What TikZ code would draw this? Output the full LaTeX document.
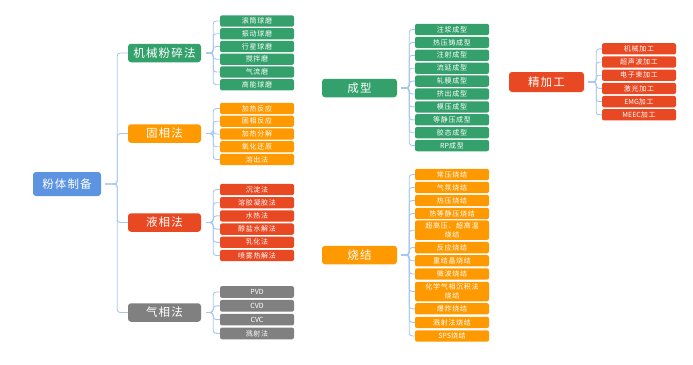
\documentclass[tikz,border=0pt]{standalone}
\usepackage{fontspec}
\setmainfont{Noto Sans CJK SC}
\usetikzlibrary{positioning}
\definecolor{cgreen}{RGB}{52,160,108}
\definecolor{corange}{RGB}{255,153,0}
\definecolor{cred}{RGB}{232,72,34}
\definecolor{cgray}{RGB}{128,128,128}
\definecolor{cblue}{RGB}{92,148,226}
\definecolor{cline}{RGB}{165,198,240}
\newfontfamily\leaffont[LetterSpace=10]{Noto Sans CJK SC}
\newfontfamily\latinleaf{Noto Sans CJK SC}
\newfontfamily\bigfont[LetterSpace=10]{Noto Sans CJK SC}
\tikzset{
  leafbox/.style={rounded corners=2pt, minimum width=74pt, minimum height=11.3pt, inner sep=0pt, text=white, font=\leaffont\fontsize{7}{9}\selectfont, align=center},
  leafG/.style={leafbox, fill=cgreen},
  leafO/.style={leafbox, fill=corange},
  leafR/.style={leafbox, fill=cred},
  leafY/.style={leafbox, fill=cgray},
  topbox/.style={rounded corners=3pt, minimum width=73pt, minimum height=18.5pt, inner sep=0pt, text=white, font=\bigfont\fontsize{11.5}{12}\selectfont},
  conn/.style={draw=cline, line width=0.9pt, rounded corners=3pt},
}
\newcommand{\lat}[1]{{\latinleaf #1}}
\begin{document}
\begin{tikzpicture}[x=1pt,y=-1pt]
\useasboundingbox (0,0) rectangle (693,364);
% root
\node[topbox, fill=cblue, minimum width=68pt, minimum height=24pt] (root) at (67,184) {粉体制备};
% level 1
\node[topbox, fill=cgreen] (mech) at (164.5,53) {机械粉碎法};
\node[topbox, fill=corange] (solid) at (164.5,133.5) {固相法};
\node[topbox, fill=cred] (liq) at (164.5,222.5) {液相法};
\node[topbox, fill=cgray] (gas) at (164.5,312.5) {气相法};
\foreach \p in {mech,solid,liq,gas}
  \draw[conn] ([xshift=4pt]root.east) -- ++(12,0) |- (\p.west);
% mech leaves
\foreach \t [count=\i] in {滚筒球磨,振动球磨,行星球磨,搅拌磨,气流磨,高能球磨}
  \node[leafG] (m\i) at (257,{21+(\i-1)*12.75}) {\t};
\foreach \i in {1,...,6}
  \draw[conn] ([xshift=5pt]mech.east) -- ++(7,0) |- (m\i.west);
% solid leaves
\foreach \t [count=\i] in {加热反应,固相反应,加热分解,氧化还原,溶出法}
  \node[leafO] (s\i) at (257,{108.5+(\i-1)*12.75}) {\t};
\foreach \i in {1,...,5}
  \draw[conn] ([xshift=5pt]solid.east) -- ++(7,0) |- (s\i.west);
% liquid leaves
\foreach \t [count=\i] in {沉淀法,溶胶凝胶法,水热法,醇盐水解法,乳化法,喷雾热解法}
  \node[leafR] (l\i) at (257,{189.5+(\i-1)*13.2}) {\t};
\foreach \i in {1,...,6}
  \draw[conn] ([xshift=5pt]liq.east) -- ++(7,0) |- (l\i.west);
% gas leaves
\node[leafY, minimum height=11.7pt] (g1) at (257,292) {\lat{PVD}};
\node[leafY, minimum height=11.7pt] (g2) at (257,305.8) {\lat{CVD}};
\node[leafY, minimum height=11.7pt] (g3) at (257,319.6) {\lat{CVC}};
\node[leafY, minimum height=11.7pt] (g4) at (257,333.4) {溅射法};
\foreach \i in {1,...,4}
  \draw[conn] ([xshift=5pt]gas.east) -- ++(7,0) |- (g\i.west);
% forming
\node[topbox, fill=cgreen, minimum width=75pt] (form) at (359.5,88) {成型};
\foreach \t [count=\i] in {注浆成型,热压铸成型,注射成型,流延成型,轧膜成型,挤出成型,模压成型,等静压成型,胶态成型,\lat{RP}成型}
  \node[leafG] (f\i) at (452,{29.5+(\i-1)*12.9}) {\t};
\foreach \i in {1,...,10}
  \draw[conn] ([xshift=4pt]form.east) -- ++(8,0) |- (f\i.west);
% sintering
\node[topbox, fill=corange, minimum width=75pt] (sint) at (359.5,255) {烧结};
\node[leafO] (k1) at (452,174.5) {常压烧结};
\node[leafO] (k2) at (452,187.5) {气氛烧结};
\node[leafO] (k3) at (452,200.5) {热压烧结};
\node[leafO] (k4) at (452,213.5) {热等静压烧结};
\node[leafO, minimum height=19.5pt] (k5) at (452,230.2) {超高压、超高温\\烧结};
\node[leafO] (k6) at (452,247.6) {反应烧结};
\node[leafO] (k7) at (452,260.8) {重结晶烧结};
\node[leafO] (k8) at (452,274) {微波烧结};
\node[leafO, minimum height=19.5pt] (k9) at (452,291.5) {化学气相沉积法\\烧结};
\node[leafO] (k10) at (452,308.8) {爆炸烧结};
\node[leafO] (k11) at (452,322.4) {溅射法烧结};
\node[leafO] (k12) at (452,336) {\lat{SPS}烧结};
\foreach \i in {1,...,12}
  \draw[conn] ([xshift=4pt]sint.east) -- ++(8,0) |- (k\i.west);
% finishing
\node[topbox, fill=cred, minimum width=75pt, minimum height=20pt] (fin) at (546.5,82) {精加工};
\node[leafR] (e1) at (639,48.8) {机械加工};
\node[leafR] (e2) at (639,62.0) {超声波加工};
\node[leafR] (e3) at (639,75.2) {电子束加工};
\node[leafR] (e4) at (639,88.4) {激光加工};
\node[leafR] (e5) at (639,101.6) {\lat{EMG}加工};
\node[leafR] (e6) at (639,114.8) {\lat{MEEC}加工};
\foreach \i in {1,...,6}
  \draw[conn] ([xshift=4pt]fin.east) -- ++(8,0) |- (e\i.west);
\end{tikzpicture}
\end{document}
